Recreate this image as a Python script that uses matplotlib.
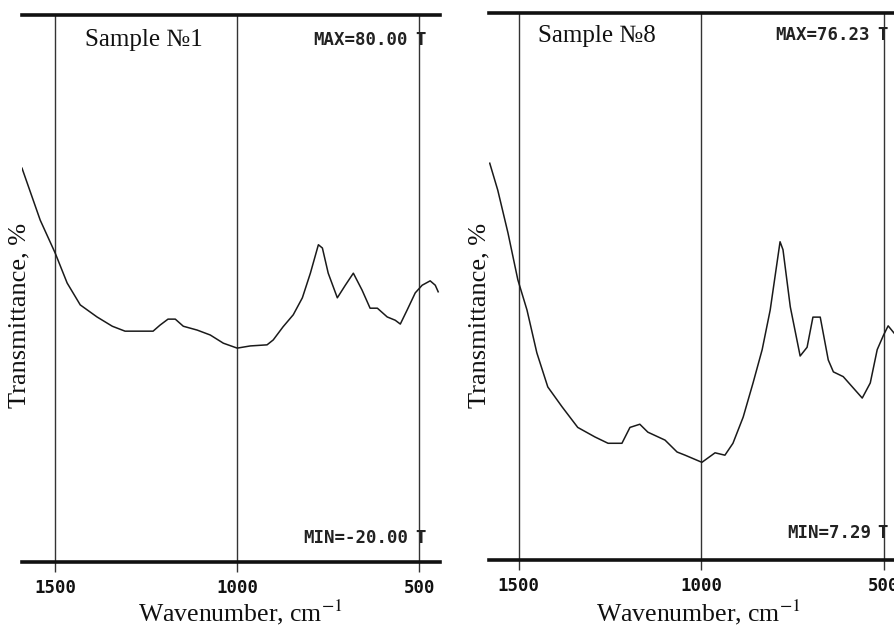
import matplotlib
matplotlib.use("Agg")
import matplotlib.pyplot as plt

W, H = 894, 628

# Sample No1 spectrum (wavenumber, cm-1 / transmittance, %)
wn_s1 = [1591, 1541, 1500, 1467, 1431, 1385, 1343, 1308, 1231, 1212, 1190, 1170,
         1148, 1110, 1074, 1038, 1000, 964, 918, 901, 874, 846, 821, 799, 777,
         766, 750, 725, 703, 681, 657, 635, 615, 588, 566, 552, 533, 511, 492,
         470, 456, 448]
t_s1 = [52.0, 42.5, 36.5, 31.0, 27.0, 24.8, 23.1, 22.2, 22.2, 23.3, 24.4, 24.4,
        23.1, 22.4, 21.5, 20.0, 19.1, 19.5, 19.7, 20.6, 23.0, 25.2, 28.3, 32.8, 38.0,
        37.4, 32.8, 28.3, 30.6, 32.8, 29.7, 26.4, 26.4, 24.8, 24.2, 23.5, 26.1, 29.2, 30.6,
        31.4, 30.6, 29.4]

# Sample No8 spectrum
wn_s8 = [1579, 1557, 1529, 1502, 1477, 1450, 1420, 1381, 1338, 1291, 1255, 1217,
         1195, 1168, 1146, 1099, 1066, 1044, 998, 962, 935, 913, 885, 858, 833,
         811, 784, 776, 756, 729, 710, 694, 674, 652, 638, 611, 586, 559, 537,
         518, 501, 488, 472]
t_s8 = [57.3, 53.9, 48.5, 42.6, 38.8, 33.4, 29.1, 26.6, 24.0, 22.8, 22.0, 22.0,
        24.0, 24.4, 23.4, 22.4, 20.9, 20.5, 19.6, 20.8, 20.5, 22.0, 25.3, 29.6, 33.8,
        38.8, 47.4, 46.4, 39.2, 33.0, 34.1, 37.9, 37.9, 32.5, 31.0, 30.4, 29.1, 27.7, 29.6,
        33.8, 35.6, 36.8, 35.9]

ticks = [1500, 1000, 500]
tick_labels = ["1500", "1000", "500"]

serif = ["Liberation Serif", "DejaVu Serif"]
mono = ["DejaVu Sans Mono"]
plt.rcParams["mathtext.fontset"] = "stix"


def fx(x):
    return x / W


def fy(y):
    return 1 - y / H


fig = plt.figure(figsize=(W / 100, H / 100), dpi=100)

panels = [
    # x-range px, y-range px, xlim, ylim, data, sample label, max/min texts
    dict(px=(22, 440), py=(15, 562), xlim=(1591, 443), ylim=(-20.0, 80.0),
         wn=wn_s1, t=t_s1, name="Sample №1", name_xy=(144, 40),
         max_txt="MAX=80.00", max_xy=(408, 40), min_txt="MIN=-20.00", min_xy=(408, 538),
         tx=421, ylab_x=19, xlab_x=240),
    dict(px=(489, 894), py=(13, 560), xlim=(1581, 472), ylim=(7.29, 76.23),
         wn=wn_s8, t=t_s8, name="Sample №8", name_xy=(597, 36),
         max_txt="MAX=76.23", max_xy=(870, 35), min_txt="MIN=7.29", min_xy=(871, 533),
         tx=883, ylab_x=479, xlab_x=698),
]

for p in panels:
    x0, x1 = p["px"]
    y0, y1 = p["py"]
    ax = fig.add_axes([fx(x0), fy(y1), (x1 - x0) / W, (y1 - y0) / H])
    ax.set_xlim(*p["xlim"])
    ax.set_ylim(*p["ylim"])
    for v in ticks:
        ax.axvline(v, color="#333333", lw=1.0, zorder=1)
    ax.plot(p["wn"], p["t"], color="#1a1a1a", lw=1.1, zorder=3)

    for side in ("left", "right"):
        ax.spines[side].set_visible(False)
    for side in ("top", "bottom"):
        ax.spines[side].set_linewidth(2.6)
        ax.spines[side].set_color("#111111")
    ax.set_yticks([])
    ax.set_xticks(ticks)
    ax.set_xticklabels(tick_labels, family=mono, fontweight="bold", fontsize=12.5)
    ax.tick_params(axis="x", direction="out", length=7, width=1.0, color="#333333",
                   pad=5, labelcolor="#111111")

    fig.text(fx(p["name_xy"][0]), fy(p["name_xy"][1]), p["name"], family=serif,
             fontsize=18, ha="center", va="center", color="#111111")
    fig.text(fx(p["max_xy"][0]), fy(p["max_xy"][1]), p["max_txt"], family=mono,
             fontweight="bold", fontsize=12.5, ha="right", va="center", color="#222222")
    fig.text(fx(p["min_xy"][0]), fy(p["min_xy"][1]), p["min_txt"], family=mono,
             fontweight="bold", fontsize=12.5, ha="right", va="center", color="#222222")
    for yy in (p["max_xy"][1], p["min_xy"][1]):
        fig.text(fx(p["tx"]), fy(yy), "T", family=mono, fontweight="bold",
                 fontsize=12.5, ha="center", va="center", color="#222222")

    fig.text(fx(p["ylab_x"]), fy(315), "Transmittance, %", family=serif, fontsize=19,
             rotation=90, ha="center", va="center", color="#111111")
    fig.text(fx(p["xlab_x"]), fy(612), "Wavenumber, cm$^{-1}$", family=serif,
             fontsize=18.5, ha="center", va="center", color="#111111")

fig.savefig("out.png", dpi=100)
